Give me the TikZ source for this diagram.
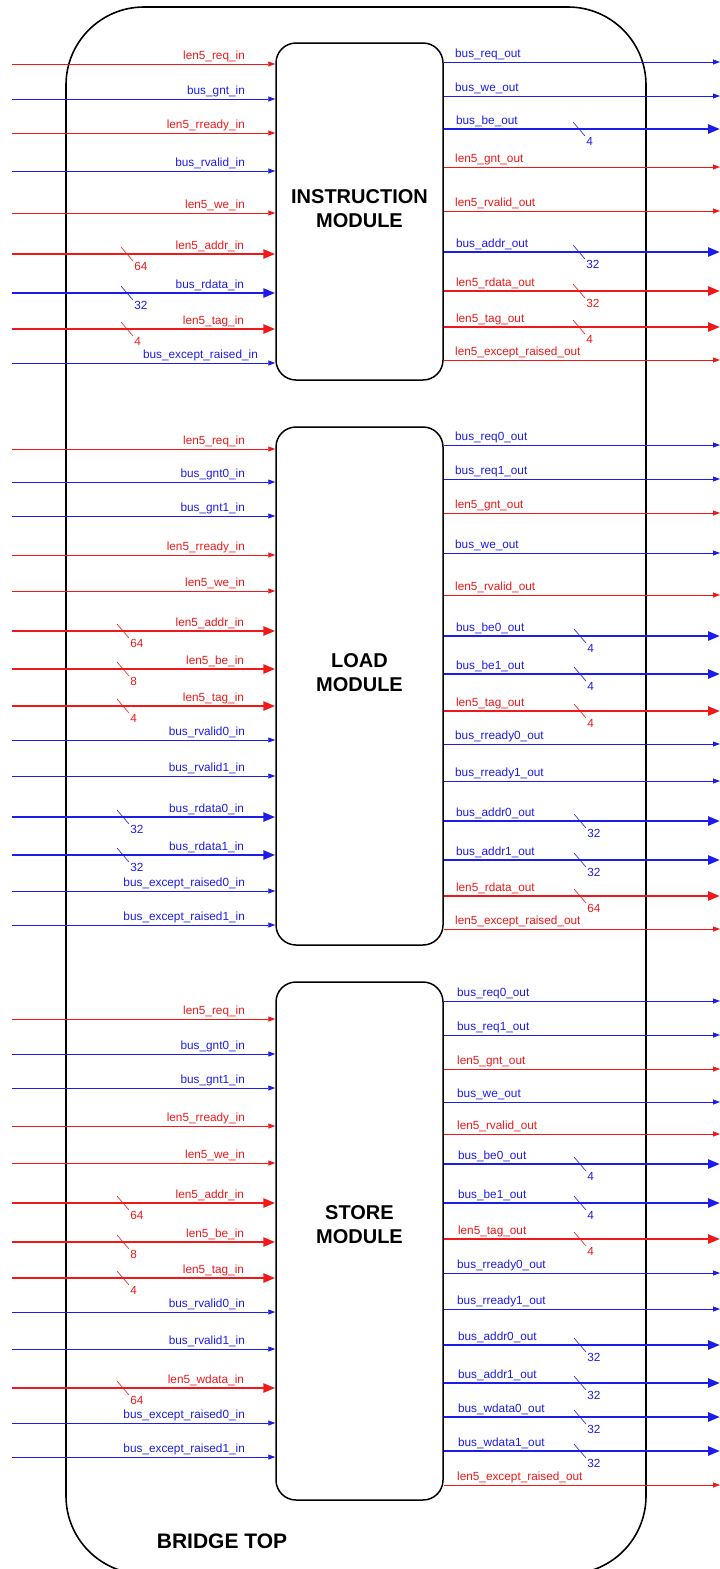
\documentclass[tikz,border=0pt]{standalone}
\usepackage{fontspec}
\setmainfont{Liberation Sans}
\usetikzlibrary{arrows.meta}
\definecolor{SigRed}{RGB}{240,24,24}
\definecolor{SigBlue}{RGB}{28,28,235}
\tikzset{
	wire/.style={line width=0.8pt, -{Triangle[length=7pt,width=5pt]}},
	buswire/.style={line width=2.6pt, -{Triangle[length=12pt,width=9pt]}},
	tick/.style={line width=0.6pt},
	sigtext/.style={font=\fontsize{11.8}{13}\selectfont, inner sep=0pt},
	inlabel/.style={sigtext, at end, anchor=base east, xshift=-30pt, yshift=5pt},
	outlabel/.style={sigtext, at start, anchor=base west, xshift=11pt, yshift=5pt},
	bitlabel/.style={sigtext, anchor=north west, inner sep=1pt},
	modbox/.style={draw, line width=1.5pt, rounded corners=20pt, minimum width=167pt, fill=white},
	modtitle/.style={font=\bfseries\fontsize{20}{24}\selectfont, align=center}
}

\begin{document}
\begin{tikzpicture}[x=1pt, y=-1pt]
	\path[use as bounding box, clip] (0,0) rectangle (720,1569);
	% top level block
	\draw[line width=1.6pt, rounded corners=78pt] (66,7) rectangle (646,1574);
	\node[font=\bfseries\fontsize{21}{25}\selectfont] (toptitle) at (222,1541) {BRIDGE TOP};

	% the three modules
	\node[modbox, minimum height=337pt] (imod) at (359.5,211.5) {};
	\node[modtitle] (ititle) at (359.5,209) {INSTRUCTION\\MODULE};
	\node[modbox, minimum height=518pt] (lmod) at (359.5,686) {};
	\node[modtitle] (ltitle) at (359.5,673) {LOAD\\MODULE};
	\node[modbox, minimum height=518pt] (smod) at (359.5,1241) {};
	\node[modtitle] (stitle) at (359.5,1225) {STORE\\MODULE};

	% instruction module ports
	\foreach \yy/\col/\sty/\bits/\dx/\lab [count=\i] in {
		64/SigRed/wire/0/0/len5\_req\_in,
		99/SigBlue/wire/0/0/bus\_gnt\_in,
		133/SigRed/wire/0/0/len5\_rready\_in,
		171/SigBlue/wire/0/0/bus\_rvalid\_in,
		213/SigRed/wire/0/0/len5\_we\_in,
		254/SigRed/buswire/64/0/len5\_addr\_in,
		293/SigBlue/buswire/32/0/bus\_rdata\_in,
		329/SigRed/buswire/4/0/len5\_tag\_in,
		363/SigBlue/wire/0/13/bus\_except\_raised\_in}
	{
		\coordinate (ii\i) at (12,\yy);
		\draw[\sty, \col] (ii\i) -- (ii\i -| imod.west) node[inlabel, xshift=\dx pt] (iil\i) {\lab};
		\ifnum\bits>0
			\draw[tick, \col] ([shift={(109,-7)}]ii\i) -- ++(12,14) node[bitlabel] (iiw\i) {\bits};
		\fi
	}
	\foreach \yy/\col/\sty/\bits/\lab [count=\i] in {
		62/SigBlue/wire/0/bus\_req\_out,
		96/SigBlue/wire/0/bus\_we\_out,
		129/SigBlue/buswire/4/bus\_be\_out,
		167/SigRed/wire/0/len5\_gnt\_out,
		211/SigRed/wire/0/len5\_rvalid\_out,
		252/SigBlue/buswire/32/bus\_addr\_out,
		291/SigRed/buswire/32/len5\_rdata\_out,
		327/SigRed/buswire/4/len5\_tag\_out,
		360/SigRed/wire/0/len5\_except\_raised\_out}
	{
		\coordinate (io\i) at (720,\yy);
		\draw[\sty, \col] (io\i -| imod.east) -- (io\i) node[outlabel] (iol\i) {\lab};
		\ifnum\bits>0
			\draw[tick, \col] ([shift={(-147,-7)}]io\i) -- ++(12,14) node[bitlabel] (iow\i) {\bits};
		\fi
	}

	% load module ports
	\foreach \yy/\col/\sty/\bits/\lab [count=\i] in {
		449/SigRed/wire/0/len5\_req\_in,
		482/SigBlue/wire/0/bus\_gnt0\_in,
		516/SigBlue/wire/0/bus\_gnt1\_in,
		555/SigRed/wire/0/len5\_rready\_in,
		591/SigRed/wire/0/len5\_we\_in,
		631/SigRed/buswire/64/len5\_addr\_in,
		669/SigRed/buswire/8/len5\_be\_in,
		706/SigRed/buswire/4/len5\_tag\_in,
		740/SigBlue/wire/0/bus\_rvalid0\_in,
		776/SigBlue/wire/0/bus\_rvalid1\_in,
		817/SigBlue/buswire/32/bus\_rdata0\_in,
		855/SigBlue/buswire/32/bus\_rdata1\_in,
		891/SigBlue/wire/0/bus\_except\_raised0\_in,
		925/SigBlue/wire/0/bus\_except\_raised1\_in}
	{
		\coordinate (li\i) at (12,\yy);
		\draw[\sty, \col] (li\i) -- (li\i -| lmod.west) node[inlabel] (lil\i) {\lab};
		\ifnum\bits>0
			\draw[tick, \col] ([shift={(105,-7)}]li\i) -- ++(12,14) node[bitlabel] (liw\i) {\bits};
		\fi
	}
	\foreach \yy/\col/\sty/\bits/\lab [count=\i] in {
		445/SigBlue/wire/0/bus\_req0\_out,
		479/SigBlue/wire/0/bus\_req1\_out,
		513/SigRed/wire/0/len5\_gnt\_out,
		553/SigBlue/wire/0/bus\_we\_out,
		595/SigRed/wire/0/len5\_rvalid\_out,
		636/SigBlue/buswire/4/bus\_be0\_out,
		674/SigBlue/buswire/4/bus\_be1\_out,
		711/SigRed/buswire/4/len5\_tag\_out,
		744/SigBlue/wire/0/bus\_rready0\_out,
		781/SigBlue/wire/0/bus\_rready1\_out,
		821/SigBlue/buswire/32/bus\_addr0\_out,
		860/SigBlue/buswire/32/bus\_addr1\_out,
		896/SigRed/buswire/64/len5\_rdata\_out,
		929/SigRed/wire/0/len5\_except\_raised\_out}
	{
		\coordinate (lo\i) at (720,\yy);
		\draw[\sty, \col] (lo\i -| lmod.east) -- (lo\i) node[outlabel] (lol\i) {\lab};
		\ifnum\bits>0
			\draw[tick, \col] ([shift={(-146,-7)}]lo\i) -- ++(12,14) node[bitlabel] (low\i) {\bits};
		\fi
	}

	% store module ports
	\foreach \yy/\col/\sty/\bits/\lab [count=\i] in {
		1019/SigRed/wire/0/len5\_req\_in,
		1054/SigBlue/wire/0/bus\_gnt0\_in,
		1088/SigBlue/wire/0/bus\_gnt1\_in,
		1126/SigRed/wire/0/len5\_rready\_in,
		1163/SigRed/wire/0/len5\_we\_in,
		1203/SigRed/buswire/64/len5\_addr\_in,
		1242/SigRed/buswire/8/len5\_be\_in,
		1278/SigRed/buswire/4/len5\_tag\_in,
		1312/SigBlue/wire/0/bus\_rvalid0\_in,
		1349/SigBlue/wire/0/bus\_rvalid1\_in,
		1388/SigRed/buswire/64/len5\_wdata\_in,
		1423/SigBlue/wire/0/bus\_except\_raised0\_in,
		1457/SigBlue/wire/0/bus\_except\_raised1\_in}
	{
		\coordinate (si\i) at (12,\yy);
		\draw[\sty, \col] (si\i) -- (si\i -| smod.west) node[inlabel] (sil\i) {\lab};
		\ifnum\bits>0
			\draw[tick, \col] ([shift={(105,-7)}]si\i) -- ++(12,14) node[bitlabel] (siw\i) {\bits};
		\fi
	}
	\foreach \yy/\col/\sty/\bits/\lab [count=\i] in {
		1001/SigBlue/wire/0/bus\_req0\_out,
		1035/SigBlue/wire/0/bus\_req1\_out,
		1069/SigRed/wire/0/len5\_gnt\_out,
		1102/SigBlue/wire/0/bus\_we\_out,
		1134/SigRed/wire/0/len5\_rvalid\_out,
		1164/SigBlue/buswire/4/bus\_be0\_out,
		1203/SigBlue/buswire/4/bus\_be1\_out,
		1239/SigRed/buswire/4/len5\_tag\_out,
		1273/SigBlue/wire/0/bus\_rready0\_out,
		1309/SigBlue/wire/0/bus\_rready1\_out,
		1345/SigBlue/buswire/32/bus\_addr0\_out,
		1383/SigBlue/buswire/32/bus\_addr1\_out,
		1417/SigBlue/buswire/32/bus\_wdata0\_out,
		1451/SigBlue/buswire/32/bus\_wdata1\_out,
		1485/SigRed/wire/0/len5\_except\_raised\_out}
	{
		\coordinate (so\i) at (720,\yy);
		\draw[\sty, \col] (so\i -| smod.east) -- (so\i) node[outlabel, xshift=2pt] (sol\i) {\lab};
		\ifnum\bits>0
			\draw[tick, \col] ([shift={(-146,-7)}]so\i) -- ++(12,14) node[bitlabel] (sow\i) {\bits};
		\fi
	}
\end{tikzpicture}
\end{document}
